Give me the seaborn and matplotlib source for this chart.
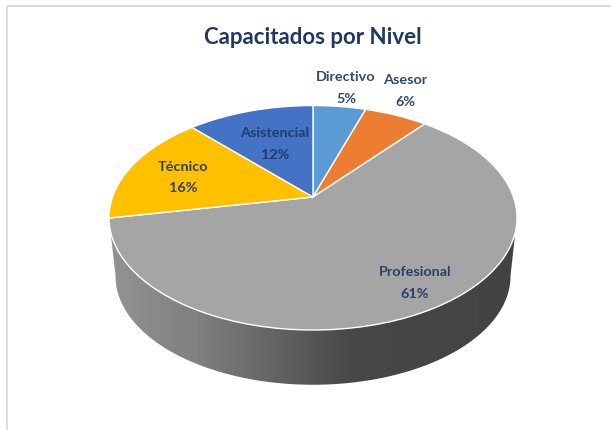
import numpy as np
import matplotlib
matplotlib.use("Agg")
import matplotlib.pyplot as plt
from matplotlib.patches import Polygon
from matplotlib.colors import LinearSegmentedColormap
from matplotlib.transforms import Transform
import seaborn as sns

categories = ["Directivo", "Asesor", "Profesional", "Técnico", "Asistencial"]
shares = [5, 6, 61, 16, 12]
percent_labels = ["5%", "6%", "61%", "16%", "12%"]
slice_colors = ["#5B9BD5", "#ED7D31", "#A5A5A5", "#FFC000", "#4472C4"]
title_text = "Capacitados por Nivel"

sns.set_theme(style="white")
plt.rcParams["font.family"] = ["Lato", "DejaVu Sans"]

W, H = 611, 430
NAVY = "#1F3864"


class Perspective(Transform):
    """Tilted-disc projection of the unit circle into pixel coordinates."""
    input_dims = output_dims = 2
    is_separable = False
    has_inverse = False

    def __init__(self, cx=313.0, cy=197.0, a=200.5, b=108.4, k=0.185, scale=1.0):
        super().__init__()
        self.cx, self.cy, self.a, self.b, self.k, self.scale = cx, cy, a, b, k, scale

    def transform_non_affine(self, values):
        v = np.asarray(values, dtype=float)
        w = 1 + self.k * v[:, 1]
        x = self.cx + self.scale * self.a * v[:, 0] / w
        y = self.cy - self.scale * self.b * v[:, 1] / w
        return np.column_stack([x, y])


fig = plt.figure(figsize=(W / 100, H / 100), dpi=100, facecolor="white")
ax = fig.add_axes([0, 0, 1, 1])

palette = sns.color_palette(slice_colors)
wedges, _ = ax.pie(shares, colors=palette, startangle=90, counterclock=False,
                   wedgeprops=dict(edgecolor="white", linewidth=1.0))
ax.set_aspect("auto")
ax.set_xlim(0, W)
ax.set_ylim(H, 0)
ax.axis("off")

top = Perspective()
bottom = Perspective(cy=256.0, scale=0.968)
for w in wedges:
    w.set_transform(top + ax.transData)
    w.set_zorder(3)

# side wall of the disc: front half between the two tangent points
t = np.linspace(np.radians(259.5), np.radians(100.5), 200)
rim = np.column_stack([np.sin(t), np.cos(t)])
wall_xy = np.vstack([top.transform(rim), bottom.transform(rim)[::-1]])
wall = Polygon(wall_xy, closed=True, transform=ax.transData, facecolor="none", edgecolor="none")
ax.add_patch(wall)
wall_cmap = LinearSegmentedColormap.from_list(
    "wall",
    [(0.0, "#949494"), (0.22, "#808080"), (0.48, "#595959"), (0.6, "#474747"), (1.0, "#434343")],
)
grad = ax.imshow(np.linspace(0, 1, 256)[None, :], cmap=wall_cmap, aspect="auto",
                 extent=(105, 520, 400, 200), zorder=2, vmin=0, vmax=1)
grad.set_clip_path(wall)
ax.set_xlim(0, W)
ax.set_ylim(H, 0)

# labels
label_pos = {
    "Directivo": (346, 77, 99),
    "Asesor": (405, 80, 102),
    "Profesional": (415, 272, 294),
    "Técnico": (183, 167, 188),
    "Asistencial": (275, 133, 155),
}
for name, pct in zip(categories, percent_labels):
    x, y1, y2 = label_pos[name]
    ax.text(x, y1, name, ha="center", va="center", fontsize=10.4, fontweight="bold",
            color=NAVY, alpha=0.92, zorder=5)
    ax.text(x, y2, pct, ha="center", va="center", fontsize=10.4, fontweight="bold",
            color=NAVY, alpha=0.92, zorder=5)

ax.text(313, 38, title_text, ha="center", va="center", fontsize=16, fontweight="bold",
        color=NAVY, zorder=5)

# frame remnants of the pasted screenshot
ax.plot([6.5, W], [5.5, 5.5], color="#D9D9D9", lw=1.4, zorder=1, solid_capstyle="butt")
ax.plot([6.5, 6.5], [5.5, H], color="#DDDDDD", lw=1.4, zorder=1, solid_capstyle="butt")

fig.savefig("out.png", dpi=100, facecolor="white")
